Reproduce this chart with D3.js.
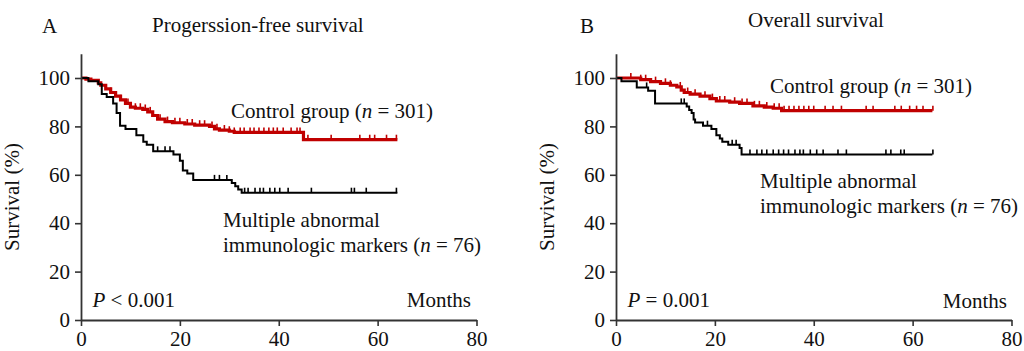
<!DOCTYPE html>
<html>
<head>
<meta charset="utf-8">
<script src="https://cdn.jsdelivr.net/npm/d3@7"></script>
<style>
  body { margin: 0; background: #fff; }
</style>
</head>
<body>
<div id="chart"></div>
<script>
// step points: [month, survival %] (value holds from that month on)
const pfsControl = [[0,100],[1,99.5],[2,99],[3.5,98],[4,97],[5,95.5],[6,94],[7,92.5],[8,91],[9,89.5],[10,88],[11,87.5],[12.5,87],[13.5,86],[14.5,84.5],[15.5,83],[17,82],[18.5,81.5],[21,81],[23,80.5],[26,80],[27,79],[28,78.5],[30,78],[31,77.5],[45,74.5],[64,74.5]];
const pfsMarkers = [[0,100],[1.5,98.7],[3.5,97.4],[4.2,93.4],[5.2,92.1],[6.5,89.5],[7.2,85.5],[7.9,80.3],[9,78.9],[11.2,76.3],[12.6,73.7],[13.3,72.4],[14.6,69.7],[18.7,68.4],[20,65.8],[20.6,61.8],[21.5,60.5],[22.7,57.9],[30.5,56.6],[31.2,55.3],[31.8,53.9],[32.5,52.6],[64,52.6]];
const osControl = [[0,100],[5,99.3],[7,98.5],[9,97.8],[11,97],[12.3,96.3],[13.2,95],[13.8,94],[15,93.3],[17,92.5],[19,91.5],[20.3,90.5],[23,90],[25,89.5],[27.7,88.5],[30,88],[31.8,87.5],[33.5,86.5],[64,86.5]];
const osMarkers = [[0,100],[1.1,98.7],[4.2,96.1],[6.5,94.7],[7.9,89.5],[14.3,88.2],[14.8,86.8],[15.3,85.5],[15.7,82.9],[16,81.6],[17.6,80.3],[19.3,78.9],[20.3,76.3],[21,75],[21.5,73.7],[22.7,72.4],[25,71.1],[25.4,68.4],[64,68.4]];

// censored times (months)
const pfsControlCens = [6,8,9.5,11,12,13,14,16,17.5,19,20,21.5,22.5,24,25,26.5,27.5,29,30,31,32.2,33,34.2,35,36,37,38,38.9,39.7,40.9,42.5,43.7,44.3,45.9,50.6,56.4,58.4,59.4,61.8,63.8];
const pfsMarkersCens = [15.5,17,18,27,28,29.5,33.1,33.8,35.2,36.2,36.9,38.2,39.2,40.2,41.9,46.6,54.7,55.3,57.7,63.8];
const osControlCens = [3,5,6,8,10,11,13,14.5,16,18,19.5,21,22,24,25.5,26.5,28,29,30.5,32,33,34,35,36,37,38,39,40,42.3,43.9,45.6,50.6,52,56.4,57.7,59.4,60.8,62.1,64.1];
const osMarkersCens = [6.2,13.2,13.8,18.5,23.5,24.3,27.1,28.5,29.5,30.5,31.8,32.9,33.9,34.9,36.2,37.2,37.9,39.3,40.6,41.9,44.9,46.6,54.6,55.6,57.6,58.3,64.1];

const xTicks = [0, 20, 40, 60, 80];
const yTicks = [0, 20, 40, 60, 80, 100];

const width = 1024, height = 351;
const red = '#c00000', black = '#000';
const serif = '"Liberation Serif", "Times New Roman", "DejaVu Serif", serif';

const svg = d3.select('#chart').append('svg')
  .attr('width', width).attr('height', height);

const y = d3.scaleLinear().domain([0, 110]).range([320, 53.8]);

function stepAt(curve, t) {
  let v = curve[0][1];
  for (const p of curve) { if (p[0] <= t) v = p[1]; }
  return v;
}

function panel(opts) {
  const x = d3.scaleLinear().domain([0, 80]).range([opts.x0, opts.x0 + 395.5]);
  const g = svg.append('g');

  const line = d3.line().x(d => x(d[0])).y(d => y(d[1])).curve(d3.curveStepAfter);

  opts.series.forEach(s => {
    g.append('path').datum(s.data)
      .attr('d', line)
      .attr('fill', 'none')
      .attr('stroke', s.color)
      .attr('stroke-width', s.width);
    g.selectAll(null).data(s.cens).enter().append('line')
      .attr('x1', d => x(d)).attr('x2', d => x(d))
      .attr('y1', d => y(stepAt(s.data, d)))
      .attr('y2', d => y(stepAt(s.data, d)) - 5)
      .attr('stroke', s.color)
      .attr('stroke-width', 1.6);
  });

  const yAxis = g.append('g')
    .attr('transform', `translate(${opts.x0},0)`)
    .call(d3.axisLeft(y).tickValues(yTicks).tickSize(6).tickSizeOuter(0).tickPadding(5));
  const xAxis = g.append('g')
    .attr('transform', `translate(0,${y(0)})`)
    .call(d3.axisBottom(x).tickValues(xTicks).tickSize(6).tickSizeOuter(0).tickPadding(5));
  [yAxis, xAxis].forEach(a => {
    a.attr('font-family', null).attr('font-size', null);
    a.select('.domain').attr('stroke', '#333').attr('stroke-width', 1.8);
    a.selectAll('.tick line').attr('stroke', '#333').attr('stroke-width', 1.6);
    a.selectAll('.tick text')
      .style('font-family', serif)
      .style('font-size', '21px').attr('fill', '#111');
  });

  const txt = (xx, yy, anchor) => g.append('text')
    .attr('x', xx).attr('y', yy)
    .style('font-family', serif).style('font-size', '21px')
    .attr('fill', '#111')
    .attr('text-anchor', anchor || 'start');

  txt(opts.letter[1], 33).text(opts.letter[0]);
  txt(opts.title[1], opts.title[2]).text(opts.title[0]);

  g.append('text')
    .attr('transform', `translate(${opts.x0 - 62},197) rotate(-90)`)
    .attr('text-anchor', 'middle')
    .style('font-family', serif).style('font-size', '21px')
    .attr('fill', '#111')
    .text('Survival (%)');

  const c = txt(opts.control[0], opts.control[1]);
  c.append('tspan').text('Control group (');
  c.append('tspan').style('font-style', 'italic').text('n');
  c.append('tspan').text(' = 301)');

  txt(opts.multi[0], opts.multi[1]).text('Multiple abnormal');
  const m = txt(opts.multi[0], opts.multi[1] + 24.5);
  m.append('tspan').text('immunologic markers (');
  m.append('tspan').style('font-style', 'italic').text('n');
  m.append('tspan').text(' = 76)');

  const p = txt(opts.x0 + 11.5, 306.5);
  p.append('tspan').style('font-style', 'italic').text('P');
  p.append('tspan').text(opts.pText);

  txt(opts.months[0], opts.months[1], 'end').text('Months');
}

panel({
  x0: 81,
  letter: ['A', 42],
  title: ['Progerssion-free survival', 152, 32],
  series: [
    { data: pfsControl, cens: pfsControlCens, color: red, width: 3.2 },
    { data: pfsMarkers, cens: pfsMarkersCens, color: black, width: 2 }
  ],
  control: [231, 118],
  multi: [223, 227],
  pText: ' < 0.001',
  months: [471, 306.5]
});

panel({
  x0: 616,
  letter: ['B', 580],
  title: ['Overall survival', 748, 27],
  series: [
    { data: osControl, cens: osControlCens, color: red, width: 3.2 },
    { data: osMarkers, cens: osMarkersCens, color: black, width: 2 }
  ],
  control: [770, 93],
  multi: [760, 188],
  pText: ' = 0.001',
  months: [1007, 308]
});
</script>
</body>
</html>
